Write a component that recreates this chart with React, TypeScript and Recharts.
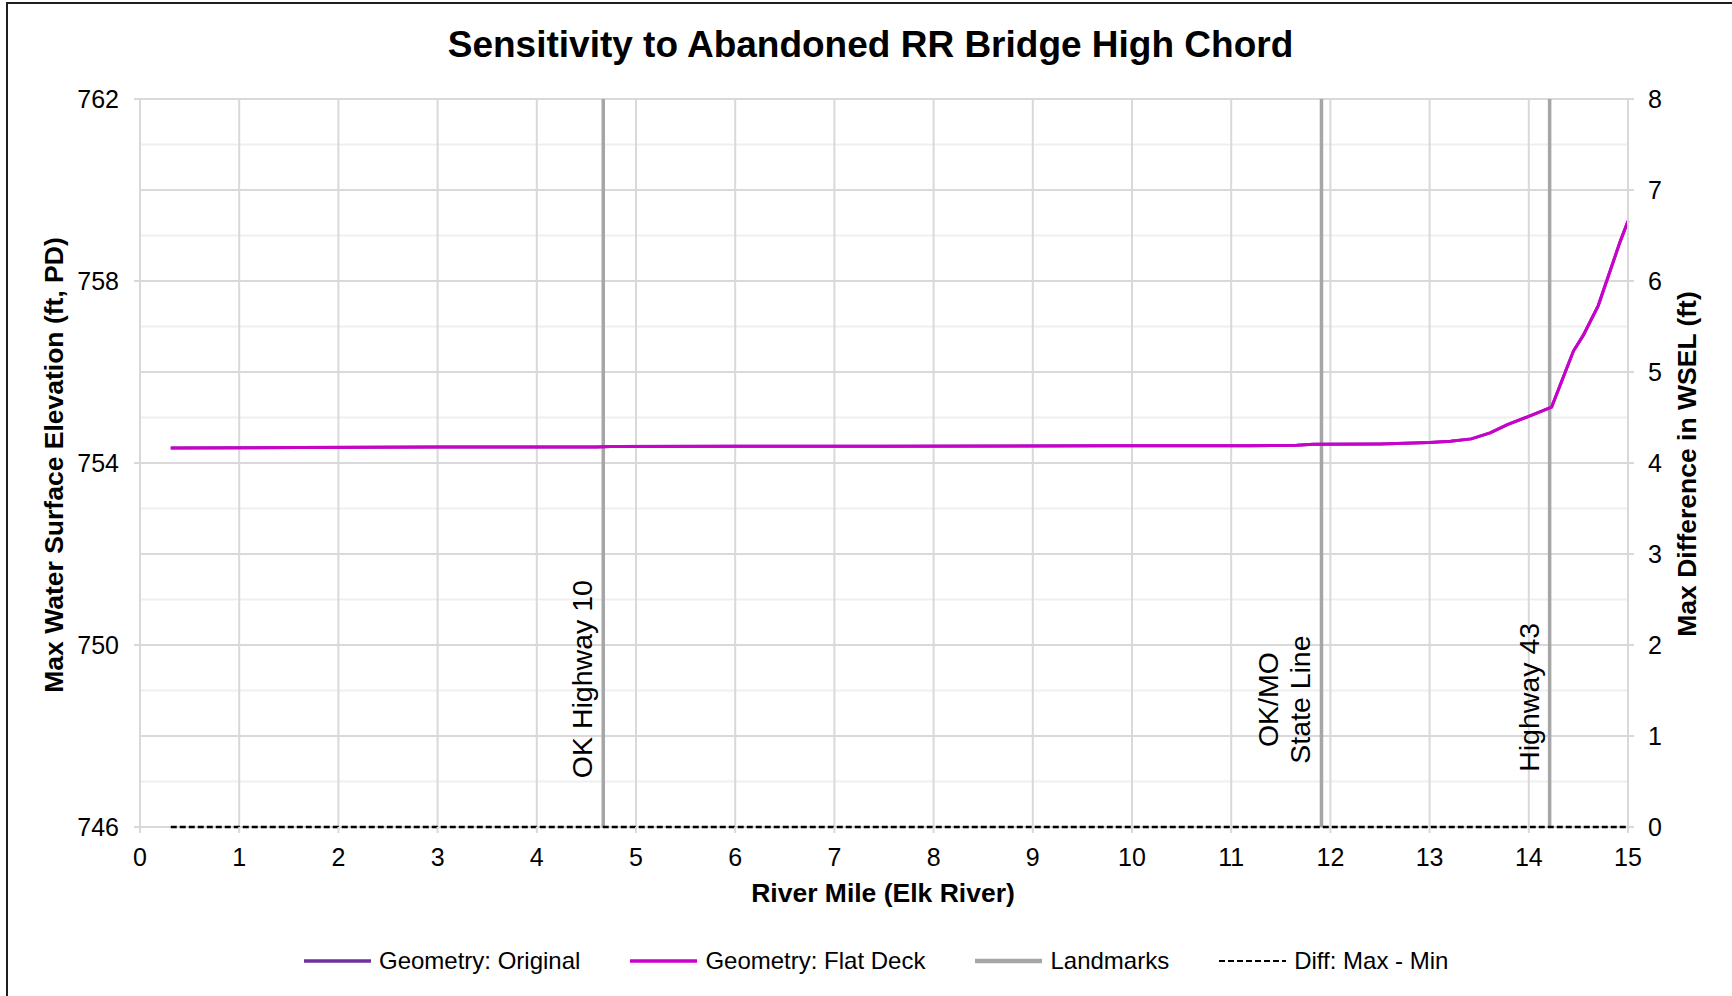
import { ComposedChart, Line, XAxis, YAxis, CartesianGrid, ReferenceLine, ReferenceDot, Label } from 'recharts'

// River stations (mile) and max WSEL for both geometries
const riverMile = [0.31, 1.6, 3.0, 4.6, 4.75, 6.0, 7.5, 9.8, 10.5, 11.19, 11.66, 11.83, 12.5, 13.0, 13.21, 13.42, 13.61, 13.79, 13.98, 14.23, 14.45, 14.55, 14.7, 14.92, 15.0]
const wselOriginal = [754.33, 754.34, 754.35, 754.35, 754.36, 754.37, 754.37, 754.38, 754.38, 754.38, 754.39, 754.41, 754.42, 754.45, 754.48, 754.53, 754.66, 754.85, 755.01, 755.23, 756.46, 756.81, 757.46, 758.86, 759.32]
const wselFlatDeck = [754.33, 754.34, 754.35, 754.35, 754.36, 754.37, 754.37, 754.38, 754.38, 754.38, 754.39, 754.41, 754.42, 754.45, 754.48, 754.53, 754.66, 754.85, 755.01, 755.23, 756.46, 756.81, 757.46, 758.86, 759.32]
const diffMaxMin = [0, 0, 0, 0, 0, 0, 0, 0, 0, 0, 0, 0, 0, 0, 0, 0, 0, 0, 0, 0, 0, 0, 0, 0, 0]

const landmarkMiles = [4.67, 11.91, 14.21]
const landmarkNames = [['OK Highway 10'], ['OK/MO', 'State Line'], ['Highway 43']]
const landmarkLabelLevel = [749.25, 748.8, 748.85]

const xTicks = [0, 1, 2, 3, 4, 5, 6, 7, 8, 9, 10, 11, 12, 13, 14, 15]
const leftTicks = [746, 750, 754, 758, 762]
const rightTicks = [0, 1, 2, 3, 4, 5, 6, 7, 8]
const majorGridY = [746, 748, 750, 752, 754, 756, 758, 760, 762]
const minorGridY = [747, 749, 751, 753, 755, 757, 759, 761]

const data = riverMile.map((mile, i) => ({
  mile,
  original: wselOriginal[i],
  flatDeck: wselFlatDeck[i],
  diff: diffMaxMin[i],
}))

const FONT = '"Liberation Sans", Arial, sans-serif'
const GRID = '#d9d9d9'

function LandmarkLabel(props: any) {
  const vb = props.viewBox || {}
  const cx = (vb.x ?? props.x ?? 0) + (vb.width ?? 0) / 2
  const cy = (vb.y ?? props.y ?? 0) + (vb.height ?? 0) / 2
  const lines: string[] = props.lines
  const n = lines.length
  return (
    <text
      x={cx}
      y={cy}
      transform={`rotate(-90 ${cx} ${cy})`}
      textAnchor="middle"
      fontSize={28.5}
      fill="#000"
      fontFamily={FONT}
    >
      {lines.map((l, i) => (
        <tspan key={i} x={cx} dy={i === 0 ? -11 - 32 * (n - 1) : 32}>
          {l}
        </tspan>
      ))}
    </text>
  )
}

const axisTitle = (text: string, dx: number, dy: number, rotate: boolean) => (props: any) => {
  const vb = props.viewBox
  const x = rotate ? vb.x + dx : vb.x + vb.width / 2 + dx
  const y = rotate ? vb.y + vb.height / 2 + dy : vb.y + dy
  return (
    <text
      x={x}
      y={y}
      transform={rotate ? `rotate(-90 ${x} ${y})` : undefined}
      textAnchor="middle"
      dominantBaseline="central"
      fontSize={26.5}
      fontWeight="bold"
      fill="#000"
      fontFamily={FONT}
    >
      {text}
    </text>
  )
}

const legendItems = [
  { name: 'Geometry: Original', color: '#7030A0', width: 3.5, dash: undefined },
  { name: 'Geometry: Flat Deck', color: '#CC00CC', width: 3.5, dash: undefined },
  { name: 'Landmarks', color: '#A6A6A6', width: 4.5, dash: undefined },
  { name: 'Diff: Max - Min', color: '#000000', width: 2, dash: '6 3' },
]

export default function App() {
  const tickStyle = { fill: '#000', fontSize: 25, fontFamily: FONT }
  return (
    <div
      style={{
        position: 'fixed',
        left: 0,
        top: 0,
        width: 1732,
        height: 996,
        background: '#fff',
        overflow: 'hidden',
        fontFamily: FONT,
      }}
    >
      <div
        style={{
          position: 'absolute',
          left: 6,
          top: 2,
          width: 1800,
          height: 1100,
          border: '2px solid #1f1f1f',
        }}
      />
      <div
        style={{
          position: 'absolute',
          left: 0,
          top: 25.7,
          width: 1741,
          textAlign: 'center',
          fontSize: 37,
          lineHeight: 1,
          fontWeight: 'bold',
          color: '#000',
          whiteSpace: 'nowrap',
        }}
      >
        Sensitivity to Abandoned RR Bridge High Chord
      </div>
      <div style={{ position: 'absolute', left: 0, top: 0 }}>
        <ComposedChart width={1732} height={996} data={data} margin={{ top: 99, right: 0, bottom: 109, left: 0 }}>
          <CartesianGrid yAxisId="left" vertical={false} horizontalValues={minorGridY} stroke="#efefef" strokeWidth={2} />
          <CartesianGrid yAxisId="left" horizontalValues={majorGridY} verticalValues={xTicks} stroke={GRID} strokeWidth={2} />
          <XAxis
            type="number"
            dataKey="mile"
            domain={[0, 15]}
            ticks={xTicks}
            interval={0}
            height={60}
            tickSize={6}
            tickMargin={15}
            tick={tickStyle}
            axisLine={false}
            tickLine={{ stroke: GRID, strokeWidth: 2 }}
          >
            <Label content={axisTitle('River Mile (Elk River)', -1, 66, false)} />
          </XAxis>
          <YAxis
            yAxisId="left"
            domain={[746, 762]}
            ticks={leftTicks}
            interval={0}
            width={140}
            tickSize={6}
            tickMargin={15}
            tick={tickStyle}
            axisLine={{ stroke: GRID, strokeWidth: 2 }}
            tickLine={{ stroke: GRID, strokeWidth: 2 }}
          >
            <Label content={axisTitle('Max Water Surface Elevation (ft, PD)', 54, 2, true)} />
          </YAxis>
          <YAxis
            yAxisId="right"
            orientation="right"
            domain={[0, 8]}
            ticks={rightTicks}
            interval={0}
            width={104}
            tickSize={6}
            tickMargin={14}
            tick={tickStyle}
            axisLine={{ stroke: GRID, strokeWidth: 2 }}
            tickLine={{ stroke: GRID, strokeWidth: 2 }}
          >
            <Label content={axisTitle('Max Difference in WSEL (ft)', 59, 1, true)} />
          </YAxis>
          {landmarkMiles.map((m, i) => (
            <ReferenceLine key={`lm-${i}`} x={m} yAxisId="left" stroke="#A6A6A6" strokeWidth={3.5} />
          ))}
          <Line
            yAxisId="left"
            type="linear"
            dataKey="original"
            name="Geometry: Original"
            stroke="#7030A0"
            strokeWidth={3}
            dot={false}
            activeDot={false}
            isAnimationActive={false}
          />
          <Line
            yAxisId="left"
            type="linear"
            dataKey="flatDeck"
            name="Geometry: Flat Deck"
            stroke="#CC00CC"
            strokeWidth={3}
            dot={false}
            activeDot={false}
            isAnimationActive={false}
          />
          <Line
            yAxisId="right"
            type="linear"
            dataKey="diff"
            name="Diff: Max - Min"
            stroke="#000"
            strokeWidth={2.5}
            strokeDasharray="6 3"
            dot={false}
            activeDot={false}
            isAnimationActive={false}
          />
          {landmarkMiles.map((m, i) => (
            <ReferenceDot
              key={`ll-${i}`}
              x={m}
              y={landmarkLabelLevel[i]}
              yAxisId="left"
              r={0}
              fill="none"
              stroke="none"
              label={<LandmarkLabel lines={landmarkNames[i]} />}
            />
          ))}
        </ComposedChart>
      </div>
      <div
        style={{
          position: 'absolute',
          left: 304,
          top: 946,
          height: 30,
          display: 'flex',
          alignItems: 'center',
          gap: 50,
          fontSize: 24,
          color: '#000',
          whiteSpace: 'nowrap',
        }}
      >
        {legendItems.map((it) => (
          <div key={it.name} style={{ display: 'flex', alignItems: 'center', gap: 8 }}>
            <svg width={67} height={10}>
              <line x1={0} y1={5} x2={67} y2={5} stroke={it.color} strokeWidth={it.width} strokeDasharray={it.dash} />
            </svg>
            <span>{it.name}</span>
          </div>
        ))}
      </div>
    </div>
  )
}
